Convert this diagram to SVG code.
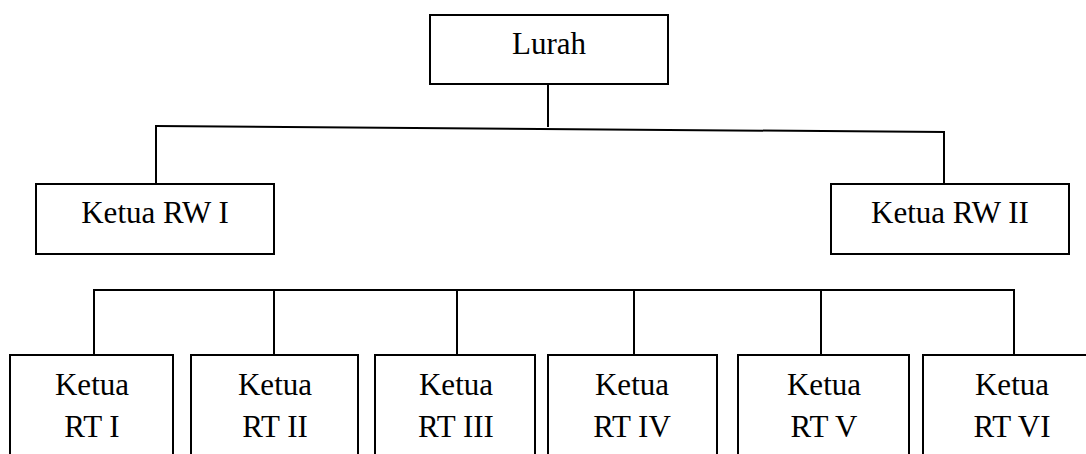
<svg xmlns="http://www.w3.org/2000/svg" width="1086" height="454" viewBox="0 0 1086 454">
<style>
.box{fill:#fff;stroke:#000;stroke-width:2}
.ln{fill:none;stroke:#000;stroke-width:2}
text{font-family:"Liberation Serif","Times New Roman",serif;font-size:31px;fill:#000;text-anchor:middle}
</style>
<rect width="1086" height="454" fill="#fff"/>
<g id="connectors">
<line class="ln" x1="548" y1="84" x2="548" y2="127"/>
<line class="ln" x1="155" y1="126" x2="945" y2="132"/>
<line class="ln" x1="156" y1="125" x2="156" y2="184"/>
<line class="ln" x1="944" y1="132" x2="944" y2="184"/>
<line class="ln" x1="93" y1="290" x2="1015" y2="290"/>
<line class="ln" x1="94" y1="289" x2="94" y2="355"/>
<line class="ln" x1="274" y1="290" x2="274" y2="355"/>
<line class="ln" x1="457" y1="290" x2="457" y2="355"/>
<line class="ln" x1="634" y1="290" x2="634" y2="355"/>
<line class="ln" x1="821" y1="290" x2="821" y2="355"/>
<line class="ln" x1="1014" y1="289" x2="1014" y2="355"/>
</g>
<g id="lurah"><rect class="box" x="430" y="15" width="238" height="69"/><text x="549" y="54">Lurah</text></g>
<g id="rw1"><rect class="box" x="36" y="184" width="238" height="70"/><text x="155" y="223">Ketua RW I</text></g>
<g id="rw2"><rect class="box" x="831" y="184" width="238" height="70"/><text x="950" y="223">Ketua RW II</text></g>
<g id="rt1"><rect class="box" x="10" y="355" width="163" height="110"/><text x="92" y="395">Ketua</text><text x="92" y="437">RT I</text></g>
<g id="rt2"><rect class="box" x="191" y="355" width="167" height="110"/><text x="275" y="395">Ketua</text><text x="275" y="437">RT II</text></g>
<g id="rt3"><rect class="box" x="375" y="355" width="160" height="110"/><text x="456" y="395">Ketua</text><text x="456" y="437">RT III</text></g>
<g id="rt4"><rect class="box" x="548" y="355" width="169" height="110"/><text x="632" y="395">Ketua</text><text x="632" y="437">RT IV</text></g>
<g id="rt5"><rect class="box" x="738" y="355" width="171" height="110"/><text x="824" y="395">Ketua</text><text x="824" y="437">RT V</text></g>
<g id="rt6"><rect class="box" x="923" y="355" width="175" height="110"/><text x="1012" y="395">Ketua</text><text x="1012" y="437">RT VI</text></g>
</svg>
